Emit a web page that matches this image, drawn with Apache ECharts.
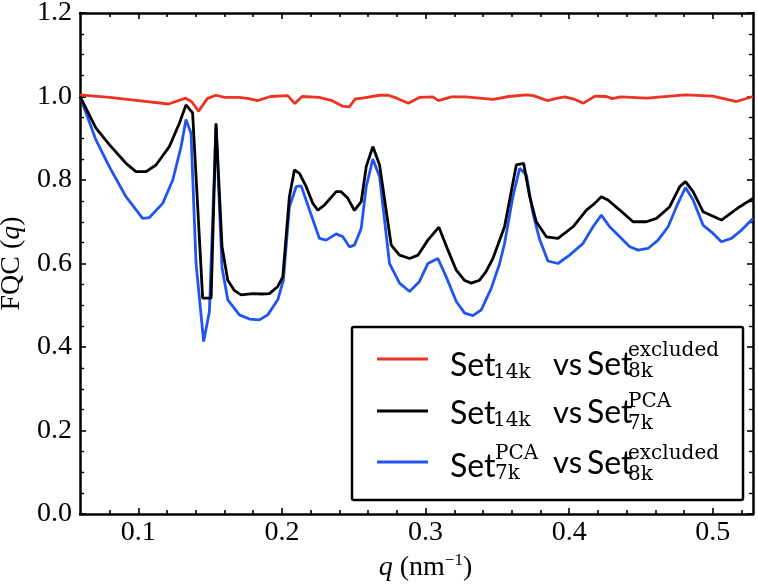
<!DOCTYPE html>
<html>
<head>
<meta charset="utf-8">
<script src="https://cdn.jsdelivr.net/npm/echarts@6/dist/echarts.min.js"></script>
<style>html,body{margin:0;padding:0;background:#fff}#c{width:758px;height:585px}</style>
</head>
<body>
<div id="c"></div>
<script>
// ---- data ----
const redQ = [0.0594,0.080,0.100,0.121,0.133,0.137,0.142,0.148,0.154,0.160,0.170,0.177,0.183,0.192,0.204,0.209,0.214,0.226,0.235,0.242,0.247,0.251,0.256,0.268,0.274,0.280,0.288,0.296,0.305,0.309,0.318,0.328,0.347,0.358,0.370,0.375,0.385,0.392,0.397,0.404,0.410,0.418,0.426,0.430,0.436,0.454,0.481,0.500,0.510,0.5165,0.528];
const redV = [1.004,0.998,0.990,0.982,0.996,0.988,0.965,0.995,1.003,0.998,0.998,0.995,0.990,1.000,1.002,0.983,1.000,0.998,0.990,0.977,0.975,0.994,0.996,1.003,1.003,0.996,0.984,0.998,0.999,0.990,0.999,0.999,0.993,1.000,1.004,1.002,0.990,0.996,0.999,0.993,0.984,1.001,1.000,0.995,0.999,0.996,1.004,1.001,0.993,0.988,1.000];

const blackQ = [0.0594,0.0705,0.080,0.0914,0.0984,0.1054,0.1123,0.1216,0.1286,0.1332,0.1378,0.1448,0.1507,0.1541,0.1583,0.1623,0.167,0.1716,0.1797,0.186,0.1913,0.1971,0.2006,0.2052,0.2087,0.2122,0.2169,0.2215,0.225,0.2296,0.2378,0.2412,0.2459,0.2505,0.2552,0.2587,0.2633,0.268,0.2761,0.2819,0.2889,0.2947,0.3016,0.3093,0.3156,0.3214,0.327,0.3318,0.3376,0.342,0.3469,0.355,0.3632,0.3683,0.3725,0.3771,0.3841,0.3922,0.4027,0.412,0.4178,0.4224,0.427,0.4352,0.4445,0.4538,0.4608,0.470,0.477,0.481,0.4863,0.4932,0.506,0.5188,0.528];
const blackV = [1.000,0.924,0.884,0.840,0.820,0.820,0.836,0.880,0.936,0.980,0.961,0.517,0.517,0.936,0.640,0.560,0.535,0.525,0.528,0.527,0.528,0.545,0.568,0.760,0.824,0.816,0.784,0.744,0.728,0.740,0.772,0.772,0.756,0.727,0.748,0.832,0.880,0.836,0.644,0.620,0.612,0.620,0.656,0.687,0.632,0.584,0.560,0.553,0.560,0.580,0.612,0.688,0.836,0.840,0.760,0.700,0.664,0.660,0.688,0.728,0.744,0.760,0.752,0.728,0.700,0.700,0.708,0.736,0.784,0.796,0.772,0.724,0.704,0.736,0.756];

const blueQ = [0.0594,0.0705,0.0798,0.0914,0.103,0.1077,0.117,0.124,0.1298,0.1332,0.1367,0.1402,0.1455,0.1495,0.1541,0.1583,0.1623,0.1704,0.1774,0.1843,0.1901,0.1971,0.201,0.2052,0.2099,0.2134,0.2192,0.2261,0.2308,0.2378,0.2424,0.247,0.2505,0.2552,0.2587,0.2633,0.268,0.2749,0.2819,0.2889,0.2958,0.3016,0.3086,0.3144,0.3214,0.3272,0.333,0.3388,0.3458,0.3516,0.355,0.3608,0.3655,0.3702,0.3748,0.3794,0.3852,0.3922,0.4003,0.4096,0.4166,0.4224,0.4282,0.4352,0.4422,0.448,0.4549,0.4619,0.4689,0.4747,0.481,0.4863,0.4932,0.5002,0.506,0.513,0.520,0.528];
const blueV = [1.000,0.896,0.832,0.760,0.708,0.710,0.744,0.800,0.880,0.945,0.912,0.600,0.413,0.485,0.930,0.590,0.513,0.477,0.467,0.465,0.477,0.513,0.560,0.736,0.784,0.786,0.728,0.660,0.656,0.671,0.664,0.640,0.644,0.684,0.784,0.850,0.808,0.600,0.553,0.533,0.557,0.600,0.612,0.568,0.509,0.481,0.475,0.489,0.541,0.600,0.648,0.760,0.828,0.812,0.720,0.658,0.606,0.600,0.620,0.648,0.688,0.716,0.688,0.664,0.640,0.632,0.636,0.656,0.688,0.736,0.782,0.752,0.692,0.672,0.652,0.660,0.680,0.708];

const xMajor = [0.1,0.2,0.3,0.4,0.5];
const xMinor = [0.08,0.12,0.14,0.16,0.18,0.22,0.24,0.26,0.28,0.32,0.34,0.36,0.38,0.42,0.44,0.46,0.48,0.52];
const X_MIN = 0.0594, X_MAX = 0.528;
const Y_MIN = 0, Y_MAX = 1.2, Y_STEP = 0.2;

const RED = '#ee3322', BLACK = '#000000', BLUE = '#2255ee';
const SERIF = 'Liberation Serif';

function pairs(q, v) { return q.map((x, i) => [x, v[i]]); }

const chart = echarts.init(document.getElementById('c'), null, {renderer: 'canvas'});

function xAxisDef(pos, values, len, showLine, showLabel, extra) {
  return Object.assign({
    type: 'value', min: X_MIN, max: X_MAX, position: pos,
    axisLine: {show: showLine, onZero: false, lineStyle: {color: '#000', width: 2.5}},
    axisTick: {show: true, inside: true, length: len, customValues: values, lineStyle: {color: '#000', width: 1.6}},
    axisLabel: showLabel ? {show: true, customValues: values, formatter: v => v.toFixed(1), fontFamily: SERIF, fontSize: 28, color: '#000', margin: 5} : {show: false},
    splitLine: {show: false}
  }, extra || {});
}
function yAxisDef(pos, showLabel, extra) {
  return Object.assign({
    type: 'value', min: Y_MIN, max: Y_MAX, interval: Y_STEP, position: pos,
    axisLine: {show: true, onZero: false, lineStyle: {color: '#000', width: 2.5}},
    axisTick: {show: true, inside: true, length: 6, lineStyle: {color: '#000', width: 1.6}},
    minorTick: {show: true, splitNumber: 4, length: 4, lineStyle: {color: '#000', width: 1.4}},
    axisLabel: showLabel ? {show: true, formatter: v => v.toFixed(1), fontFamily: SERIF, fontSize: 28, color: '#000', margin: 8} : {show: false},
    splitLine: {show: false}, minorSplitLine: {show: false}
  }, extra || {});
}

// legend drawn as graphic (with stacked sub/superscripts)
const SANS = 'Lato';
const SCRIPT = 'DejaVu Serif';
function txt(s, x, baseline, fam, size) {
  return {type: 'text', x: x, y: baseline - 0.32 * size, silent: true,
    style: {text: s, fontFamily: fam, fontSize: size, fill: '#000', align: 'left', verticalAlign: 'middle'}};
}
const legendRows = [
  {color: RED, ly: 359, parts: [
    ['Set', 450, 376, SANS, 32], ['14k', 493, 379, SCRIPT, 20], ['vs', 553, 375, SANS, 31],
    ['Set', 587, 375, SANS, 32], ['excluded', 628, 357, SCRIPT, 20], ['8k', 628, 378, SCRIPT, 20]]},
  {color: BLACK, ly: 411, parts: [
    ['Set', 450, 424, SANS, 32], ['14k', 493, 427, SCRIPT, 20], ['vs', 553, 423, SANS, 31],
    ['Set', 587, 423, SANS, 32], ['PCA', 628, 408, SCRIPT, 20], ['7k', 628, 430, SCRIPT, 20]]},
  {color: BLUE, ly: 462, parts: [
    ['Set', 450, 476.5, SANS, 32], ['PCA', 495, 460.5, SCRIPT, 20], ['7k', 495, 480, SCRIPT, 20], ['vs', 553, 473, SANS, 31],
    ['Set', 587, 474, SANS, 32], ['excluded', 628, 460.5, SCRIPT, 20], ['8k', 628, 481, SCRIPT, 20]]}
];
const legendEls = [{type: 'rect', shape: {x: 352, y: 327, width: 391, height: 173, r: 2}, style: {fill: '#fff', stroke: '#000', lineWidth: 2.5}, silent: true}];
legendRows.forEach(r => {
  legendEls.push({type: 'line', shape: {x1: 377, y1: r.ly, x2: 428, y2: r.ly}, style: {stroke: r.color, lineWidth: 3}, silent: true});
  r.parts.forEach(p => legendEls.push(txt(p[0], p[1], p[2], p[3], p[4])));
});

chart.setOption({
  animation: false,
  backgroundColor: '#fff',
  grid: {left: 80, right: 5, top: 13, bottom: 71, containLabel: false, outerBoundsMode: 'none'},
  xAxis: [
    xAxisDef('bottom', xMajor, 6, true, true, {
      name: '{i|q}{n| (nm}{s|−1}{n|)}', nameLocation: 'middle', nameGap: 30,
      nameTextStyle: {padding: [0, 0, 0, 18], rich: {
        i: {fontFamily: SERIF, fontSize: 28, fontStyle: 'italic', color: '#000', lineHeight: 32},
        n: {fontFamily: SERIF, fontSize: 28, color: '#000', lineHeight: 32},
        s: {fontFamily: SERIF, fontSize: 17, color: '#000', verticalAlign: 'top', lineHeight: 18}
      }}
    }),
    xAxisDef('bottom', xMinor, 4, false, false),
    xAxisDef('top', xMajor, 6, true, false),
    xAxisDef('top', xMinor, 4, false, false)
  ],
  yAxis: [
    yAxisDef('left', true, {
      name: '{n|FQC (}{i|q}{n|)}', nameLocation: 'middle', nameGap: 52,
      nameTextStyle: {rich: {
        n: {fontFamily: SERIF, fontSize: 28, color: '#000'},
        i: {fontFamily: SERIF, fontSize: 28, fontStyle: 'italic', color: '#000'}
      }}
    }),
    yAxisDef('right', false)
  ],
  series: [
    {name: 'red', type: 'line', data: pairs(redQ, redV), showSymbol: false, lineStyle: {color: RED, width: 2.8}, itemStyle: {color: RED}, z: 3},
    {name: 'blue', type: 'line', data: pairs(blueQ, blueV), showSymbol: false, lineStyle: {color: BLUE, width: 2.8}, itemStyle: {color: BLUE}, z: 3},
    {name: 'black', type: 'line', data: pairs(blackQ, blackV), showSymbol: false, lineStyle: {color: BLACK, width: 2.8}, itemStyle: {color: BLACK}, z: 4}
  ],
  graphic: [{type: 'group', z: 100, children: legendEls}]
});
</script>
</body>
</html>
